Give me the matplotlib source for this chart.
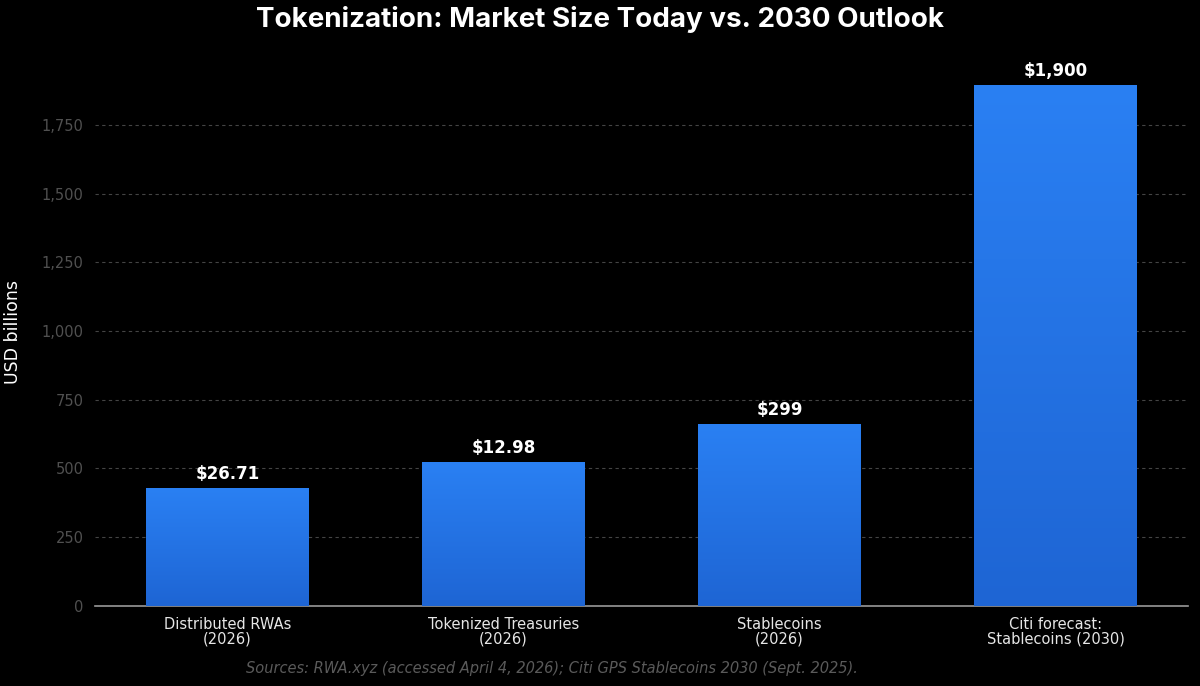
import numpy as np
import matplotlib.pyplot as plt
from matplotlib.ticker import FuncFormatter
from matplotlib.colors import LinearSegmentedColormap

plt.rcParams['font.family'] = ['DejaVu Sans']

categories = ["Distributed RWAs\n(2026)", "Tokenized Treasuries\n(2026)",
              "Stablecoins\n(2026)", "Citi forecast:\nStablecoins (2030)"]
# bar heights as drawn in the picture (USD billions)
heights = [429, 522, 662, 1896]
value_labels = ["$26.71", "$12.98", "$299", "$1,900"]
yticks = [0, 250, 500, 750, 1000, 1250, 1500, 1750]

fig = plt.figure(figsize=(12, 6.86), dpi=100, facecolor="black")
ax = fig.add_axes([0.079, 0.117, 0.911, 0.797])
ax.set_facecolor("black")

x = np.arange(len(categories))
bars = ax.bar(x, heights, width=0.59, color="#2276e8", zorder=2)

# vertical gradient inside each bar
grad = np.linspace(1, 0, 256).reshape(-1, 1)
cmap = LinearSegmentedColormap.from_list("blu", ["#1e65d4", "#2a80f3"])
for b in bars:
    x0, w, h = b.get_x(), b.get_width(), b.get_height()
    im = ax.imshow(grad, cmap=cmap, aspect="auto", extent=[x0, x0 + w, 0, h],
                   zorder=3, interpolation="bicubic")
    im.set_clip_path(b)

for xi, h, lab in zip(x, heights, value_labels):
    ax.text(xi, h + 18, lab, ha="center", va="bottom", color="white",
            fontsize=12, fontweight="bold", zorder=4)

ax.set_xlim(-0.48, 3.48)
ax.set_ylim(0, 1991)
ax.set_yticks(yticks)
ax.yaxis.set_major_formatter(FuncFormatter(lambda v, p: f"{int(v):,}"))
ax.set_xticks(x)
ax.set_xticklabels(categories, color="#e6e6e6", fontsize=10.5, linespacing=1.0)
ax.tick_params(axis="y", colors="#505050", labelsize=10.5, length=0, pad=8)
ax.tick_params(axis="x", length=0, pad=8)
ax.grid(axis="y", color="#444444", linestyle=(0, (3, 3)), linewidth=0.8, zorder=0)
for s in ["top", "right", "left"]:
    ax.spines[s].set_visible(False)
ax.spines["bottom"].set_color("#999999")
ax.spines["bottom"].set_linewidth(1.2)

ax.set_ylabel("USD billions", color="white", fontsize=12.5, labelpad=14)

fig.text(0.5, 0.972, "Tokenization: Market Size Today vs. 2030 Outlook",
         ha="center", va="center", color="white", fontsize=20,
         fontweight="bold", family="Inter")
fig.text(0.205, 0.025, "Sources: RWA.xyz (accessed April 4, 2026); Citi GPS Stablecoins 2030 (Sept. 2025).",
         ha="left", va="center", color="#5a5a5a", fontsize=10.5, style="italic")

fig.savefig("out.png", dpi=100, facecolor="black")
